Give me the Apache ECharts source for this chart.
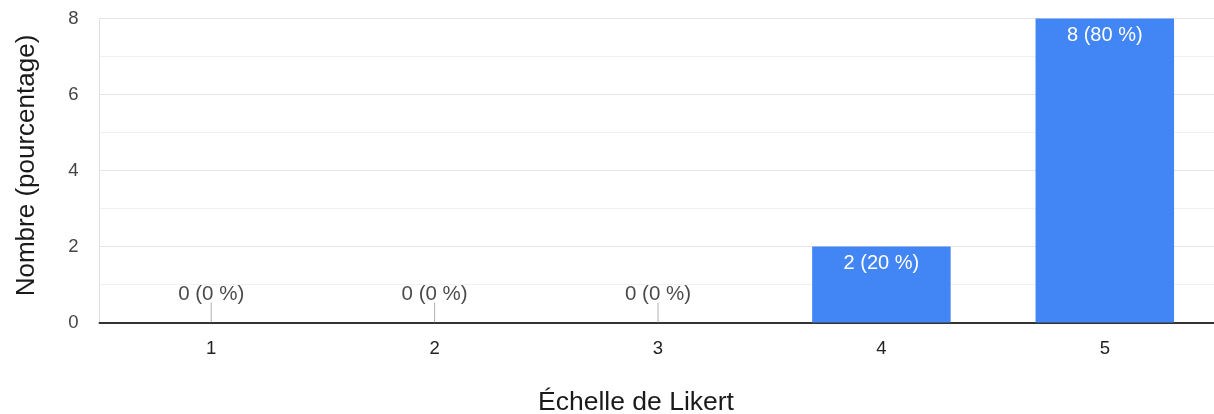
<!DOCTYPE html>
<html>
<head>
<meta charset="utf-8">
<script src="https://cdn.jsdelivr.net/npm/echarts@6/dist/echarts.min.js"></script>
<style>
  html, body { margin: 0; padding: 0; background: #fff; }
  #chart { width: 1214px; height: 414px; }
</style>
</head>
<body>
<div id="chart"></div>
<script>
// Likert scale answers: count of responses and share of total
const categories = ['1', '2', '3', '4', '5'];
const counts = [0, 0, 0, 2, 8];
const percents = [0, 0, 0, 20, 80];

const FONT = '"Liberation Sans", Arial, sans-serif';
const BLUE = '#4285F4';

function labelText(i) {
  return counts[i] + ' (' + percents[i] + ' %)';
}

// Non-empty answers are drawn as bars with the label inside the top
const barData = counts.map((v, i) => ({
  value: v,
  label: { show: v > 0 }
}));

// Empty answers get a short stub with the label above it
const zeroData = counts
  .map((v, i) => [categories[i], v, i])
  .filter(d => d[1] === 0);

const chart = echarts.init(document.getElementById('chart'), null, { renderer: 'canvas' });

chart.setOption({
  animation: false,
  textStyle: { fontFamily: FONT },
  grid: {
    left: 99.5, top: 18.5, width: 1117, height: 304,
    containLabel: false,
    outerBoundsMode: 'none'
  },
  xAxis: {
    type: 'category',
    data: categories,
    name: 'Échelle de Likert',
    nameLocation: 'middle',
    nameGap: 67,
    nameTextStyle: { fontSize: 26.5, color: '#1a1a1a', fontFamily: FONT, padding: [0, 44, 0, 0] },
    axisLine: { lineStyle: { color: '#333', width: 2 } },
    axisTick: { show: false },
    axisLabel: { fontSize: 18.5, color: '#222', margin: 17, fontFamily: FONT },
    splitLine: { show: false }
  },
  yAxis: {
    type: 'value',
    min: 0,
    max: 8,
    interval: 2,
    name: 'Nombre (pourcentage)',
    nameLocation: 'middle',
    nameRotate: 90,
    nameGap: 60,
    nameTextStyle: { fontSize: 26, color: '#1a1a1a', fontFamily: FONT, padding: [0, 0, 0, 10] },
    axisLine: { show: true, lineStyle: { color: '#e0e0e0', width: 1 } },
    axisTick: { show: false },
    axisLabel: { fontSize: 18.5, color: '#444', margin: 21, fontFamily: FONT },
    splitLine: { lineStyle: { color: '#e6e6e6', width: 1 } },
    minorTick: { show: false, splitNumber: 2 },
    minorSplitLine: { show: true, lineStyle: { color: '#f1f1f1', width: 1 } }
  },
  series: [
    {
      type: 'bar',
      data: barData,
      barWidth: '62%',
      itemStyle: { color: BLUE },
      label: {
        position: 'insideTop',
        distance: 7,
        color: '#fff',
        fontSize: 20,
        fontFamily: FONT,
        formatter: p => labelText(p.dataIndex)
      },
      z: 2
    },
    {
      type: 'scatter',
      data: zeroData,
      symbol: 'rect',
      symbolSize: [1, 20],
      symbolOffset: [0, -10],
      itemStyle: { color: '#9e9e9e' },
      label: {
        show: true,
        position: 'top',
        distance: -2,
        color: '#1a1a1a',
        fontSize: 20.5,
        fontFamily: FONT,
        formatter: p => labelText(p.value[2])
      },
      z: 3
    }
  ]
});
</script>
</body>
</html>
